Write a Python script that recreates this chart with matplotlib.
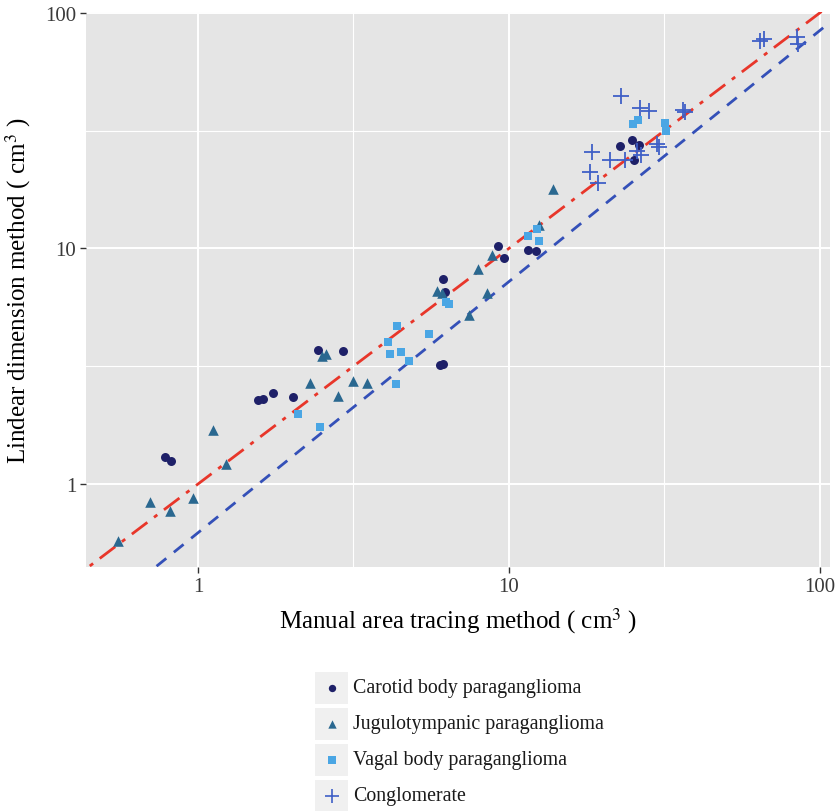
import numpy as np
import matplotlib
matplotlib.use("Agg")
import matplotlib.pyplot as plt
from matplotlib.patches import Rectangle
from matplotlib.ticker import FixedLocator, FixedFormatter, NullFormatter

plt.rcParams['font.family'] = ['Liberation Serif', 'DejaVu Serif']
plt.rcParams['mathtext.fontset'] = 'stix'

# data (cm3)
carotid_x = [0.78, 0.82, 1.56, 1.62, 1.74, 2.02, 2.43, 2.93, 6.15, 6.24, 6.01, 6.15,
             9.24, 9.66, 11.5, 12.2, 22.8, 24.9, 26.3, 25.3]
carotid_y = [1.30, 1.25, 2.27, 2.30, 2.43, 2.34, 3.71, 3.67, 7.42, 6.53, 3.20, 3.23,
             10.25, 9.12, 9.85, 9.76, 27.2, 28.9, 27.5, 23.8]

jugulo_x = [0.553, 0.70, 0.81, 0.96, 1.12, 1.23, 2.29, 2.51, 2.58, 2.82, 3.15, 3.50,
            5.88, 6.10, 7.45, 7.96, 8.51, 8.83, 12.5, 13.9]
jugulo_y = [0.573, 0.84, 0.77, 0.87, 1.70, 1.22, 2.69, 3.50, 3.56, 2.36, 2.74, 2.69,
            6.60, 6.47, 5.22, 8.18, 6.47, 9.38, 12.6, 17.9]

vagal_x = [2.10, 2.47, 4.09, 4.15, 4.37, 4.50, 4.78, 4.34, 5.54, 6.28, 6.43,
           11.5, 12.3, 12.5, 25.1, 26.1, 31.8, 32.1]
vagal_y = [1.98, 1.75, 4.01, 3.56, 4.69, 3.64, 3.33, 2.66, 4.33, 5.93, 5.81,
           11.3, 12.1, 10.8, 33.8, 35.1, 34.1, 31.5]

conglo_x = [23.0, 26.5, 28.3, 36.4, 36.9, 18.5, 21.2, 23.7, 26.7, 25.9, 30.0, 30.5,
            18.3, 19.4, 64.4, 66.3, 84.7, 85.3]
conglo_y = [44.4, 39.5, 38.4, 38.7, 38.0, 25.7, 23.8, 23.8, 24.9, 25.9, 27.8, 27.0,
            21.1, 19.0, 76.0, 77.6, 79.1, 73.9]

# reference lines: identity and fitted line (log10 y = a + b log10 x)
fit_a = -0.207
fit_b = 1.066

labels = ["Carotid body paraganglioma", "Jugulotympanic paraganglioma",
          "Vagal body paraganglioma", "Conglomerate"]
colors = ["#1E2068", "#2A6890", "#4AA6E4", "#3F5FC6"]
markers = ["o", "^", "s", "+"]
sizes = [42, 58, 40, 140]

fig = plt.figure(figsize=(8.4, 8.12), dpi=100)
ax = fig.add_axes([86/840, 1-568/812, (830-86)/840, (568-13)/812])
ax.set_facecolor("#E5E5E5")
ax.set_xscale("log")
ax.set_yscale("log")
ax.set_xlim(0.436, 108)
ax.set_ylim(0.444, 101)

major = [1, 10, 100]
minor = [0.316, 3.16, 31.6]
for axis in (ax.xaxis, ax.yaxis):
    axis.set_major_locator(FixedLocator(major))
    axis.set_major_formatter(FixedFormatter(["1", "10", "100"]))
    axis.set_minor_locator(FixedLocator(minor))
    axis.set_minor_formatter(NullFormatter())
ax.grid(which="major", color="white", lw=1.4)
ax.grid(which="minor", color="white", lw=0.8)
ax.set_axisbelow(True)
for s in ax.spines.values():
    s.set_visible(False)
ax.tick_params(which="major", length=4, width=1, color="#333333",
               labelsize=15, labelcolor="#3A3A3A", pad=3)
ax.tick_params(which="minor", length=0)

xs = np.array([0.3, 200.0])
ax.plot(xs, xs, color="#E8362A", lw=2, dashes=(7, 3, 1.5, 3), zorder=3)
ax.plot(xs, 10**fit_a * xs**fit_b, color="#3450B8", lw=2, dashes=(4.5, 3.5), zorder=3)

groups = [(carotid_x, carotid_y), (jugulo_x, jugulo_y), (vagal_x, vagal_y), (conglo_x, conglo_y)]
for (gx, gy), c, m, sz in zip(groups, colors, markers, sizes):
    if m == "+":
        ax.scatter(gx, gy, c=c, marker=m, s=sz, linewidths=1.3, zorder=4)
    else:
        ax.scatter(gx, gy, c=c, marker=m, s=sz, linewidths=0, zorder=4)

ax.set_xlabel(r"Manual area tracing method ( cm$^{3}$ )", fontsize=18, labelpad=7)
ax.set_ylabel(r"Lindear dimension method ( cm$^{3}$ )", fontsize=18, labelpad=9)

# legend drawn ggplot-style with grey key boxes
lax = fig.add_axes([0, 0, 1, 1])
lax.set_xlim(0, 840)
lax.set_ylim(812, 0)
lax.axis("off")
rows = [689, 725, 761, 797]
leg_sizes = [28, 36, 26, 110]
for yc, lab, c, m, sz in zip(rows, labels, colors, markers, leg_sizes):
    lax.add_patch(Rectangle((315, yc - 16), 33, 32, color="#F0F0F0", lw=0))
    lax.scatter([332], [yc], c=c, marker=m, s=sz, linewidths=1.2 if m == "+" else 0)
    lax.text(353, yc, lab, fontsize=14.3, va="center", ha="left", color="#1A1A1A")

fig.savefig("out.png", dpi=100)
